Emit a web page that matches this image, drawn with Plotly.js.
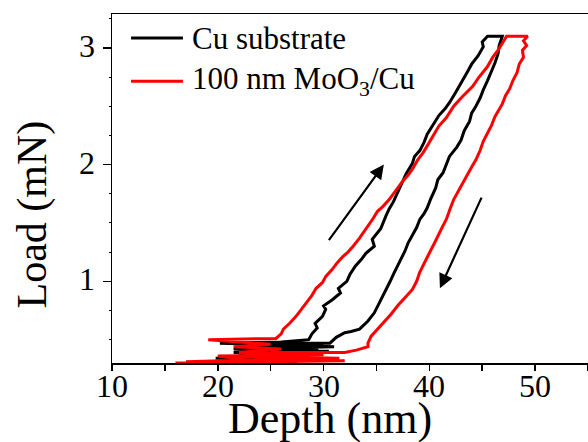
<!DOCTYPE html>
<html>
<head>
<meta charset="utf-8">
<script src="https://cdn.plot.ly/plotly-3.0.1.min.js"></script>
<style>html,body{margin:0;padding:0;background:#fff;}#chart{width:588px;height:442px;}</style>
</head>
<body>
<div id="chart"></div>
<script>
// Series names
const seriesNames = ['Cu substrate', '100 nm MoO<sub>3</sub>/Cu'];
const seriesColors = ['#000000', '#ff0000'];
const xTitle = 'Depth (nm)';
const yTitle = 'Load (mN)';

// Cu substrate: depth (nm) and load (mN), full loading-unloading loop
const cuDepth = [23.5,27.5,21.0,24.0,19.8,28.0,22.0,30.5,21.5,31.0,20.2,26.0,28.6,
  28.9,29.4,29.2,29.9,30.2,30.0,30.8,31.6,31.4,32.2,32.5,33.0,33.6,34.0,34.8,34.6,35.4,35.9,36.2,36.6,37.0,37.4,37.8,38.4,38.6,39.1,39.5,39.8,40.5,40.9,41.5,41.9,42.5,42.9,43.7,44.0,44.6,45.1,45.0,45.5,
  46.9,46.6,46.5,46.2,45.9,45.5,45.1,44.8,44.4,44.0,43.8,43.3,43.0,42.6,41.9,41.6,41.3,40.8,40.6,40.1,39.8,39.5,39.1,38.8,38.4,38.0,37.7,37.3,37.0,36.6,36.3,35.9,35.5,35.1,34.8,34.2,33.4,32.6,32.0,31.2,30.6,
  24.0,30.0,22.5,29.5,21.5,28.0,20.5,27.0,23.0,24.0];
const cuLoad = [0.30,0.31,0.32,0.33,0.34,0.35,0.37,0.40,0.42,0.44,0.47,0.48,0.50,
  0.55,0.60,0.64,0.70,0.76,0.79,0.84,0.90,0.94,1.00,1.06,1.13,1.19,1.24,1.30,1.36,1.45,1.56,1.62,1.68,1.76,1.84,1.92,2.01,2.07,2.12,2.19,2.26,2.36,2.42,2.48,2.53,2.62,2.68,2.81,2.86,2.93,3.01,3.05,3.10,
  3.10,3.02,2.95,2.87,2.80,2.72,2.64,2.57,2.50,2.44,2.37,2.29,2.21,2.15,2.07,2.00,1.93,1.87,1.80,1.70,1.63,1.58,1.53,1.46,1.40,1.33,1.26,1.19,1.13,1.06,1.00,0.93,0.86,0.79,0.73,0.66,0.59,0.57,0.56,0.52,0.47,
  0.47,0.45,0.44,0.41,0.39,0.36,0.34,0.33,0.31,0.30];

// 100 nm MoO3/Cu: depth (nm) and load (mN)
const moDepth = [16.0,24.0,32.0,22.5,20.0,28.0,22.0,26.0,21.5,25.0,19.1,25.5,
  26.0,26.2,26.8,27.4,27.9,28.5,28.9,29.3,29.9,30.2,30.8,31.3,31.8,32.3,32.8,33.4,33.8,34.2,34.7,35.1,35.6,36.2,36.6,37.0,37.5,38.0,38.4,38.9,39.4,39.8,40.2,40.6,40.9,41.6,42.3,43.0,43.6,44.1,44.7,45.5,46.0,46.5,46.9,47.3,
  49.3,48.9,49.2,48.8,48.9,48.5,48.3,47.9,47.6,47.2,46.9,46.6,46.2,45.9,45.5,45.1,44.8,44.4,44.0,43.7,43.3,42.9,42.6,42.3,42.0,41.6,41.2,40.9,40.5,40.1,39.8,39.5,39.1,38.8,38.4,37.8,37.0,36.4,35.9,35.2,34.5,34.2,34.2,33.1,32.0,
  25.0,30.0,21.0,31.5,24.0,17.0];
const moLoad = [0.30,0.31,0.32,0.33,0.36,0.37,0.39,0.42,0.44,0.46,0.50,0.51,
  0.55,0.59,0.64,0.70,0.76,0.84,0.88,0.94,0.99,1.04,1.10,1.16,1.21,1.25,1.30,1.37,1.42,1.47,1.54,1.60,1.64,1.70,1.75,1.79,1.86,1.91,1.96,2.04,2.10,2.16,2.22,2.28,2.33,2.40,2.50,2.57,2.62,2.67,2.75,2.84,2.92,2.98,3.04,3.10,
  3.10,3.06,3.02,2.98,2.92,2.86,2.79,2.72,2.65,2.59,2.52,2.47,2.41,2.34,2.27,2.20,2.12,2.04,1.98,1.93,1.87,1.80,1.75,1.70,1.63,1.53,1.46,1.40,1.33,1.26,1.21,1.16,1.08,1.00,0.93,0.87,0.79,0.72,0.67,0.60,0.53,0.47,0.44,0.41,0.39,
  0.39,0.37,0.36,0.34,0.33,0.31];

// Tick positions and labels
const xTickVals = [10,15,20,25,30,35,40,45,50,55];
const xTickText = ['10','','20','','30','','40','','50',''];
const yTickVals = [0.5,1,1.5,2,2.5,3];
const yTickText = ['','1','','2','','3'];

// Direction arrows [tailX, tailY, headX, headY] in data units
const arrowLoad = [30.4,1.34,35.7,2.0];
const arrowUnload = [45.0,1.73,41.0,0.94];

const font = 'Liberation Serif';

const traces = [
  {x: cuDepth, y: cuLoad, mode: 'lines', name: seriesNames[0], showlegend: false, line: {color: seriesColors[0], width: 3}},
  {x: moDepth, y: moLoad, mode: 'lines', name: seriesNames[1], showlegend: false, line: {color: seriesColors[1], width: 3}}
];

function arrowAnn(a){
  return {x: a[2], y: a[3], ax: a[0], ay: a[1], xref: 'x', yref: 'y', axref: 'x', ayref: 'y',
    showarrow: true, arrowhead: 2, arrowsize: 1.3, arrowwidth: 2.2, arrowcolor: '#000', text: ''};
}

// Custom legend (line sample + label) placed inside the plot area
const legendRows = [0.931, 0.807];
const legendShapes = seriesNames.map((n, i) => ({type: 'line', xref: 'paper', yref: 'paper',
  x0: 0.040, x1: 0.149, y0: legendRows[i], y1: legendRows[i], line: {color: seriesColors[i], width: 3}}));
const legendTexts = seriesNames.map((n, i) => ({xref: 'paper', yref: 'paper', x: 0.163, y: legendRows[i],
  xanchor: 'left', yanchor: 'middle', showarrow: false, text: n, font: {family: font, size: 31, color: '#000'}}));

// Tick labels as text anchored to the axis scales
const xLabelAnns = [];
xTickVals.forEach((v, i) => { if (xTickText[i]) xLabelAnns.push({xref: 'x', yref: 'paper', x: v, y: -0.066,
  xanchor: 'center', yanchor: 'middle', showarrow: false, text: xTickText[i], font: {family: font, size: 32, color: '#000'}}); });
const yLabelAnns = [];
yTickVals.forEach((v, i) => { if (yTickText[i]) yLabelAnns.push({xref: 'paper', yref: 'y', x: -0.032, y: v, yshift: 2,
  xanchor: 'right', yanchor: 'middle', showarrow: false, text: yTickText[i], font: {family: font, size: 32, color: '#000'}}); });

// Axis titles
const titleAnns = [
  {xref: 'paper', yref: 'paper', x: 0.458, y: -0.16, xanchor: 'center', yanchor: 'middle', showarrow: false,
    text: xTitle, font: {family: font, size: 44, color: '#000'}},
  {xref: 'paper', yref: 'paper', x: -0.166, y: 0.4255, xanchor: 'center', yanchor: 'middle', showarrow: false,
    textangle: -90, text: yTitle, font: {family: font, size: 42, color: '#000'}}
];

const layout = {
  width: 588, height: 442,
  margin: {l: 112, r: 0, t: 14, b: 79, pad: 0},
  paper_bgcolor: '#fff', plot_bgcolor: '#fff',
  font: {family: font, color: '#000'},
  showlegend: false,
  xaxis: {
    range: [10, 55], showgrid: false, zeroline: false,
    showline: true, linecolor: '#000', linewidth: 1.5, mirror: true,
    ticks: 'outside', ticklen: 6, tickwidth: 1.5, tickcolor: '#000',
    tickmode: 'array', tickvals: xTickVals, ticktext: xTickText, showticklabels: false
  },
  yaxis: {
    range: [0.30, 3.29], showgrid: false, zeroline: false,
    showline: true, linecolor: '#000', linewidth: 1.5, mirror: false,
    ticks: 'outside', ticklen: 8, tickwidth: 1.5, tickcolor: '#000',
    tickmode: 'array', tickvals: yTickVals, ticktext: yTickText, showticklabels: false,
    minor: {dtick: 0.25, tick0: 0, ticks: 'outside', ticklen: 2, tickwidth: 1, tickcolor: '#000'}
  },
  shapes: legendShapes,
  annotations: [arrowAnn(arrowLoad), arrowAnn(arrowUnload)].concat(legendTexts, xLabelAnns, yLabelAnns, titleAnns)
};

Plotly.newPlot('chart', traces, layout, {displayModeBar: false, staticPlot: true});
</script>
</body>
</html>
